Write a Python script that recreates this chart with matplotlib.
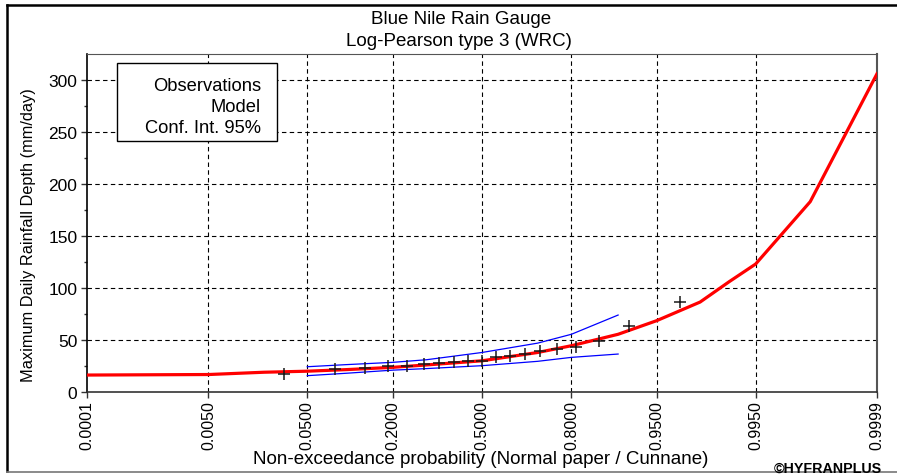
import numpy as np
import matplotlib
matplotlib.use("Agg")
import matplotlib.pyplot as plt
from matplotlib.lines import Line2D
from matplotlib.patches import Rectangle
from statistics import NormalDist

plt.rcParams['font.family'] = ['Liberation Sans', 'DejaVu Sans']

# observations (Cunnane plotting positions, n=19) and sorted depths
obs_prob = [0.031, 0.083, 0.135, 0.188, 0.240, 0.292, 0.344, 0.396, 0.448, 0.500,
            0.552, 0.604, 0.656, 0.708, 0.760, 0.813, 0.865, 0.917, 0.969]
obs_depth = [17, 22, 23, 25, 25, 27, 28, 28.5, 29.5, 30,
             33.5, 35, 37, 39.5, 41.5, 43, 49.5, 63.5, 87]

# fitted Log-Pearson 3 quantiles
model_prob = [0.0001, 0.005, 0.02, 0.05, 0.1, 0.2, 0.3, 0.5, 0.7, 0.8,
              0.9, 0.95, 0.98, 0.99, 0.995, 0.999, 0.9999]
model_depth = [16.3, 16.8, 19.0, 20.0, 21.5, 23.7, 26.0, 30.0, 38.0, 44.5,
               55.5, 68.6, 86.5, 106, 123, 183, 306]

# 95% confidence interval
ci_prob = [0.05, 0.1, 0.2, 0.3, 0.5, 0.7, 0.8, 0.9]
ci_upper = [24.3, 26.3, 28.5, 31.0, 38.0, 47.0, 55.5, 74.0]
ci_lower = [15.7, 18.0, 21.0, 22.5, 25.3, 29.5, 33.3, 36.5]

legend_lines = ['Observations', 'Model', 'Conf. Int. 95%']
prob_ticks = [0.0001, 0.005, 0.05, 0.2, 0.5, 0.8, 0.95, 0.995, 0.9999]
depth_ticks = [0, 50, 100, 150, 200, 250, 300]

nd = NormalDist()
_ppf = np.vectorize(lambda p: nd.inv_cdf(min(max(p, 1e-12), 1 - 1e-12)), otypes=[float])
_cdf = np.vectorize(nd.cdf, otypes=[float])

W, H = 897, 477
fig = plt.figure(figsize=(W / 100, H / 100), dpi=100)
ax = fig.add_axes([87 / W, 1 - 393 / H, 790 / W, 338 / H])
ax.set_xscale('function', functions=(_ppf, _cdf))
ax.set_xlim(0.0001, 0.9999)
ax.set_ylim(0, 325)

ax.plot(ci_prob, ci_upper, color='#0000ff', lw=0.9, zorder=3)
ax.plot(ci_prob, ci_lower, color='#0000ff', lw=0.9, zorder=3)
ax.plot(model_prob, model_depth, color='#ff0000', lw=2.3, zorder=4)
ax.plot(obs_prob, obs_depth, ls='none', marker='+', ms=9, mew=1.1,
        color='#1a1a1a', zorder=5)

ax.set_xticks(prob_ticks)
ax.set_xticklabels(['%.4f' % p for p in prob_ticks], rotation=90)
ax.xaxis.set_minor_locator(matplotlib.ticker.NullLocator())
ax.set_yticks(depth_ticks)
ax.set_yticks(np.arange(25, 325, 50), minor=True)
ax.tick_params(axis='both', which='major', length=4, width=1, color='#333333', pad=2)
ax.tick_params(axis='x', labelsize=11.5)
ax.tick_params(axis='y', labelsize=12.5, pad=3)
ax.tick_params(axis='y', which='minor', length=2.5, width=1, color='#333333')

for p in prob_ticks[1:-1]:
    ax.axvline(p, color='black', lw=0.8, ls=(0, (4, 3)), zorder=1)
for d in depth_ticks[1:]:
    ax.axhline(d, color='black', lw=0.8, ls=(0, (4, 3)), zorder=1)

ax.spines['left'].set_color('black')
ax.spines['bottom'].set_color('#333333')
ax.spines['top'].set_color('#555555')
ax.spines['right'].set_color('#555555')
ax.spines['right'].set_linewidth(1.5)
for s in ['left', 'bottom']:
    ax.spines[s].set_linewidth(1.2)

# legend box (text only, as in the original)
fig.add_artist(Rectangle((117 / W, 1 - 142 / H), 160 / W, 78 / H, fc='white', ec='black',
                         lw=1, transform=fig.transFigure, zorder=6))
for k, s in enumerate(legend_lines):
    fig.text(261 / W, 1 - (87 + 21 * k) / H, s, ha='right', va='center', fontsize=13.2, zorder=7)

fig.text(461 / W, 1 - 20 / H, 'Blue Nile Rain Gauge', ha='center', va='center', fontsize=13.5)
fig.text(459 / W, 1 - 42 / H, 'Log-Pearson type 3 (WRC)', ha='center', va='center', fontsize=13.5)
fig.text(481 / W, 1 - 460 / H, 'Non-exceedance probability (Normal paper / Cunnane)',
         ha='center', va='center', fontsize=13.5)
fig.text(29 / W, 1 - 235 / H, 'Maximum Daily Rainfall Depth (mm/day)', rotation=90,
         ha='center', va='center', fontsize=11.8)
fig.text(882 / W, 1 - 469 / H, '\u00a9HYFRANPLUS', ha='right', va='center',
         fontsize=10.3, fontweight='bold')

# outer frame
fig.add_artist(Line2D([7 / W, 7 / W], [1 - 6 / H, 1 - 472 / H], color='black', lw=1.8,
                      transform=fig.transFigure))
fig.add_artist(Line2D([7 / W, 1], [1 - 6 / H, 1 - 6 / H], color='black', lw=1.8,
                      transform=fig.transFigure))
fig.add_artist(Line2D([7 / W, 1], [1 - 473 / H, 1 - 473 / H], color='#777777', lw=1.2,
                      transform=fig.transFigure))

fig.savefig('out.png', dpi=100)
